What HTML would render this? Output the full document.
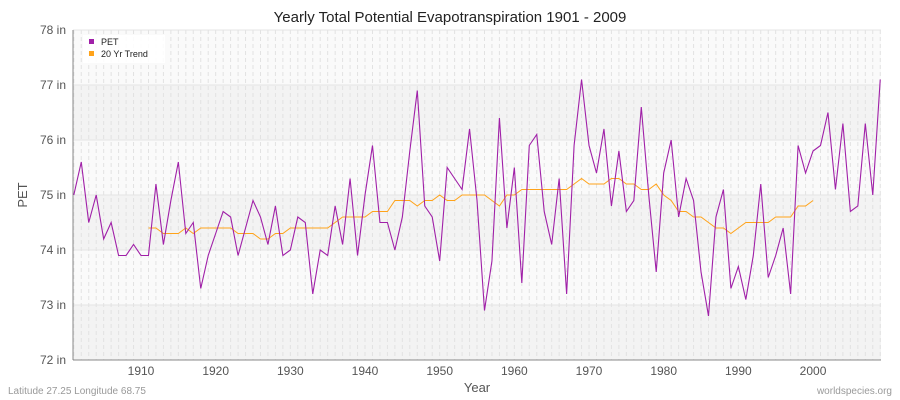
<!DOCTYPE html>
<html><head><meta charset="utf-8"><style>
body{margin:0;background:#fff;width:900px;height:400px;overflow:hidden}
svg{display:block;font-family:"Liberation Sans",sans-serif}
</style></head><body>
<svg id="c" width="900" height="400" xmlns="http://www.w3.org/2000/svg"></svg>
<script>
const pet=[75.0,75.6,74.5,75.0,74.2,74.5,73.9,73.9,74.1,73.9,73.9,75.2,74.1,74.9,75.6,74.3,74.5,73.3,73.9,74.3,74.7,74.6,73.9,74.4,74.9,74.6,74.1,74.8,73.9,74.0,74.6,74.5,73.2,74.0,73.9,74.8,74.1,75.3,73.9,75.0,75.9,74.5,74.5,74.0,74.6,75.8,76.9,74.8,74.6,73.8,75.5,75.3,75.1,76.2,74.9,72.9,73.8,76.4,74.4,75.5,73.4,75.9,76.1,74.7,74.1,75.3,73.2,75.9,77.1,75.9,75.4,76.2,74.8,75.8,74.7,74.9,76.6,75.0,73.6,75.4,76.0,74.6,75.3,74.9,73.6,72.8,74.6,75.1,73.3,73.7,73.1,73.9,75.2,73.5,73.9,74.4,73.2,75.9,75.4,75.8,75.9,76.5,75.1,76.3,74.7,74.8,76.3,75.0,77.1];
const tr=[74.4,74.4,74.3,74.3,74.3,74.4,74.3,74.4,74.4,74.4,74.4,74.4,74.3,74.3,74.3,74.2,74.2,74.3,74.3,74.4,74.4,74.4,74.4,74.4,74.4,74.5,74.6,74.6,74.6,74.6,74.7,74.7,74.7,74.9,74.9,74.9,74.8,74.9,74.9,75.0,74.9,74.9,75.0,75.0,75.0,75.0,74.9,74.8,75.0,75.0,75.1,75.1,75.1,75.1,75.1,75.1,75.1,75.2,75.3,75.2,75.2,75.2,75.3,75.3,75.2,75.2,75.1,75.1,75.2,75.0,74.9,74.7,74.7,74.6,74.6,74.5,74.4,74.4,74.3,74.4,74.5,74.5,74.5,74.5,74.6,74.6,74.6,74.8,74.8,74.9];
const X=y=>73.8+(y-1901)*7.467, Y=v=>30+(78-v)*55;
let s='';
for(let v=72;v<78;v++){s+=`<rect x="73" y="${Y(v+1)}" width="808" height="55" fill="${(v%2==0)?'#f3f3f3':'#fafafa'}"/>`;}
for(let y=1901;y<=2009;y++){s+=`<line x1="${X(y)}" y1="30" x2="${X(y)}" y2="360" stroke="#e2e2e2" stroke-dasharray="4,3" stroke-width="1"/>`;}
for(let v=72;v<=78;v++){s+=`<line x1="73" y1="${Y(v)}" x2="881" y2="${Y(v)}" stroke="#e4e4e4"/>`;
 s+=`<text x="66" y="${Y(v)+4}" text-anchor="end" font-size="12" fill="#555">${v} in</text>`;}
for(let y=1910;y<=2000;y+=10){s+=`<text x="${X(y)}" y="375" text-anchor="middle" font-size="12" fill="#555">${y}</text>`;}
s+=`<line x1="73" y1="30" x2="73" y2="360" stroke="#888"/><line x1="73" y1="360" x2="881" y2="360" stroke="#888"/>`;
s+=`<polyline fill="none" stroke="#ffa31a" stroke-width="1" points="${tr.map((v,i)=>X(1911+i)+','+Y(v)).join(' ')}"/>`;
s+=`<polyline fill="none" stroke="#a020a8" stroke-width="1.1" points="${pet.map((v,i)=>X(1901+i)+','+Y(v)).join(' ')}"/>`;
s+=`<text x="450" y="22" text-anchor="middle" font-size="15" fill="#222">Yearly Total Potential Evapotranspiration 1901 - 2009</text>`;
s+=`<text x="477" y="392" text-anchor="middle" font-size="13" fill="#555">Year</text>`;
s+=`<text x="27" y="195" text-anchor="middle" font-size="13" fill="#555" transform="rotate(-90 27 195)">PET</text>`;
s+=`<rect x="83" y="35" width="82" height="28" fill="#fff" opacity="0.9"/>`;
s+=`<rect x="89" y="39" width="5" height="5" fill="#a020a8"/><text x="101" y="45" font-size="9" fill="#222">PET</text>`;
s+=`<rect x="89" y="51" width="5" height="5" fill="#ffa31a"/><text x="101" y="57" font-size="9" fill="#222">20 Yr Trend</text>`;
s+=`<text x="8" y="394" font-size="10" fill="#999">Latitude 27.25 Longitude 68.75</text>`;
s+=`<text x="892" y="394" text-anchor="end" font-size="10" fill="#999">worldspecies.org</text>`;
document.getElementById('c').innerHTML=s;
</script>
</body></html>
